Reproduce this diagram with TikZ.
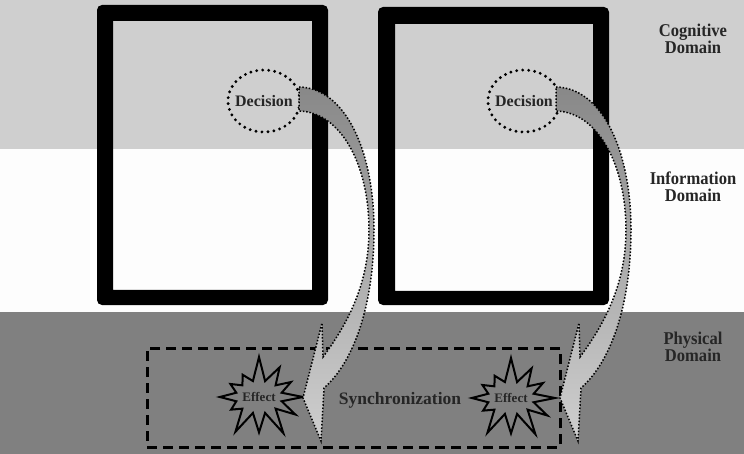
\documentclass[tikz,border=0pt]{standalone}
\usepackage{fontspec}
\setmainfont{Liberation Serif}
\usetikzlibrary{shapes.geometric,shapes.symbols}
\definecolor{bandtop}{HTML}{CFCFCF}
\definecolor{bandmid}{HTML}{FDFDFD}
\definecolor{banddark}{HTML}{808080}
\definecolor{arrtop}{HTML}{888888}
\definecolor{arrbot}{HTML}{CFCFCF}
\begin{document}
\begin{tikzpicture}[x=1pt,y=-1pt,
  domlabel/.style={align=center,font=\fontsize{18}{17}\selectfont\bfseries,text=black!85},
  decision/.style={ellipse,draw=black,line width=3.2pt,dash pattern=on 0pt off 6pt,line cap=round,
     minimum width=72pt,minimum height=62pt,inner xsep=-6pt,inner ysep=0pt,font=\fontsize{16}{18}\selectfont\bfseries,text=black!85},
  effect/.style={starburst,draw=black,line width=2pt,starburst points=12,starburst point height=26pt,
     random starburst=7,minimum width=90pt,minimum height=85pt,inner sep=0pt,font=\fontsize{13}{14}\selectfont\bfseries,text=black!85},
  curvarrow/.style={top color=arrtop,bottom color=arrbot,draw=black,line width=1.5pt,dash pattern=on 1.5pt off 1.8pt},
  frame/.style={fill=black,even odd rule},
  syncbox/.style={draw=black,line width=3pt,dash pattern=on 10pt off 6pt,minimum width=413pt,minimum height=99pt,inner sep=0pt}
]
\useasboundingbox (0,0) rectangle (744,454);
% bands
\fill[bandtop] (0,0) rectangle (744,149);
\fill[bandmid] (0,149) rectangle (744,312);
\fill[banddark] (0,312) rectangle (744,454);
% frames
\fill[frame] [rounded corners=5pt] (97,5) rectangle (328,305) [sharp corners] (113,21) rectangle (312,290);
\fill[frame] [rounded corners=5pt] (378,7) rectangle (609,305) [sharp corners] (395,24) rectangle (593,291);
% domain labels
\node[domlabel] (cog) at (693,39) {\scalebox{0.92}[1]{Cognitive}\\\scalebox{0.92}[1]{Domain}};
\node[domlabel] (inf) at (693,187) {\scalebox{0.92}[1]{Information}\\\scalebox{0.92}[1]{Domain}};
\node[domlabel] (phy) at (693,347) {\scalebox{0.92}[1]{Physical}\\\scalebox{0.92}[1]{Domain}};
% decisions
\node[decision] (d1) at (264,101) {Decision};
\node[decision] (d2) at (524,101) {Decision};
% sync box and effects
\node[syncbox] (sb) at (353.5,397.5) {};
\node[effect] (e1) at (259,397) {Effect};
\node[effect] (e2) at (511,398) {Effect};
\node[font=\fontsize{17.5}{19}\selectfont\bfseries,text=black!85] (sync) at (400,400) {Synchronization};
% curved arrows
\foreach \dx in {0,257}{
\begin{scope}[xshift=\dx]
\path[curvarrow] (299,87) .. controls (345,88) and (374,150) .. (374,230)
   .. controls (374,300) and (356,360) .. (324,388) -- (321,441) -- (303,398) -- (322,323) -- (323,357)
   .. controls (349,322) and (369,282) .. (369,230)
   .. controls (369,165) and (341,112) .. (299,111) -- cycle;
\end{scope}
}
\end{tikzpicture}
\end{document}
